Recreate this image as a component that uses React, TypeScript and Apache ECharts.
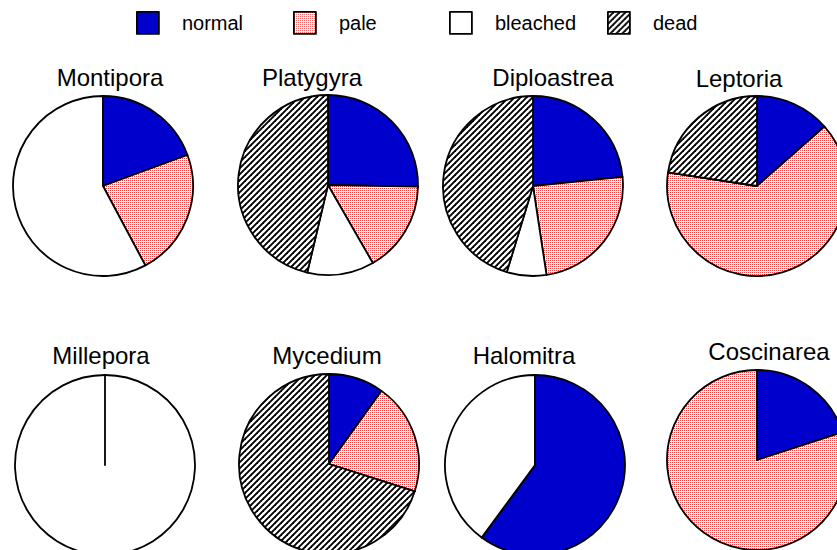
import React, { useEffect, useRef } from "react";
import * as echarts from "echarts";

// ---- data (percent of colonies in each condition) ----
const categories = ["normal", "pale", "bleached", "dead"];
const genera = ["Montipora", "Platygyra", "Diploastrea", "Leptoria", "Millepora", "Mycedium", "Halomitra", "Coscinarea"];
const normalPct = [19.4, 25.3, 23.4, 13.5, 0, 9.9, 60.1, 20.0];
const palePct = [22.8, 16.4, 24.2, 63.9, 0, 20.0, 0, 80.0];
const bleachedPct = [57.8, 12.0, 7.1, 0, 100, 0, 39.9, 0];
const deadPct = [0, 46.3, 45.3, 22.6, 0, 70.1, 0, 0];

// ---- layout (pixels) ----
const pieCenters: [number, number][] = [
  [103, 186], [328, 185], [533, 186], [757, 186],
  [105, 465], [329, 464], [535, 465], [757, 460],
];
const titlePos: [number, number][] = [
  [110, 77], [312, 77], [553, 77], [739, 78],
  [101, 355], [327, 355], [524, 355], [769, 351],
];
const legendLeft = [136, 293, 449, 607];
const PIE_R = 90;

function makePale(): HTMLCanvasElement {
  const c = document.createElement("canvas");
  c.width = 2; c.height = 2;
  const ctx = c.getContext("2d")!;
  ctx.fillStyle = "#ffffff";
  ctx.fillRect(0, 0, 2, 2);
  ctx.fillStyle = "#f04848";
  ctx.fillRect(0, 0, 1, 1);
  return c;
}

function makeDead(): HTMLCanvasElement {
  const p = 6;
  const c = document.createElement("canvas");
  c.width = p; c.height = p;
  const ctx = c.getContext("2d")!;
  ctx.fillStyle = "#ffffff";
  ctx.fillRect(0, 0, p, p);
  ctx.strokeStyle = "#000000";
  ctx.lineWidth = 1.9;
  ctx.lineCap = "square";
  for (let k = -1; k <= 1; k++) {
    ctx.beginPath();
    ctx.moveTo(k * p, p);
    ctx.lineTo(k * p + p, 0);
    ctx.stroke();
  }
  return c;
}

export default function App() {
  const ref = useRef<HTMLDivElement>(null);
  useEffect(() => {
    if (!ref.current) return;
    const chart = echarts.init(ref.current, null, { renderer: "svg" });
    const paleFill: any = { image: makePale(), repeat: "repeat", imageWidth: 2, imageHeight: 2 };
    const deadFill: any = { image: makeDead(), repeat: "repeat", imageWidth: 6, imageHeight: 6 };
    const fills: any[] = ["#0000cd", paleFill, "#ffffff", deadFill];
    const seriesValues = [normalPct, palePct, bleachedPct, deadPct];

    const series = genera.map((g, i) => ({
      type: "pie",
      name: g,
      center: pieCenters[i],
      radius: PIE_R,
      startAngle: 90,
      clockwise: true,
      silent: true,
      label: { show: false },
      labelLine: { show: false },
      itemStyle: { borderColor: "#000", borderWidth: 1.8 },
      data: categories.map((c, j) => ({
        name: c,
        value: seriesValues[j][i],
        itemStyle: { color: fills[j] },
      })),
    }));

    const legends = categories.map((c, j) => ({
      data: [c],
      left: legendLeft[j],
      top: 11,
      padding: 0,
      icon: "rect",
      itemWidth: 22,
      itemHeight: 22,
      selectedMode: false,
      itemStyle: { borderColor: "#000", borderWidth: 1.8 },
      textStyle: {
        fontFamily: "Liberation Sans, Arial, sans-serif",
        fontSize: 20,
        color: "#000",
        padding: [3, 0, 0, 18],
      },
    }));

    const titles = genera.map((g, i) => ({
      type: "text",
      x: titlePos[i][0],
      y: titlePos[i][1],
      style: {
        text: g,
        textAlign: "center",
        textVerticalAlign: "middle",
        fontFamily: "Liberation Sans, Arial, sans-serif",
        fontSize: 24,
        fill: "#000",
      },
    }));

    chart.setOption({
      animation: false,
      backgroundColor: "#ffffff",
      legend: legends,
      graphic: titles,
      series,
    });
    return () => chart.dispose();
  }, []);
  return (
    <div
      ref={ref}
      style={{ position: "absolute", left: 0, top: 0, width: 837, height: 550 }}
    />
  );
}
